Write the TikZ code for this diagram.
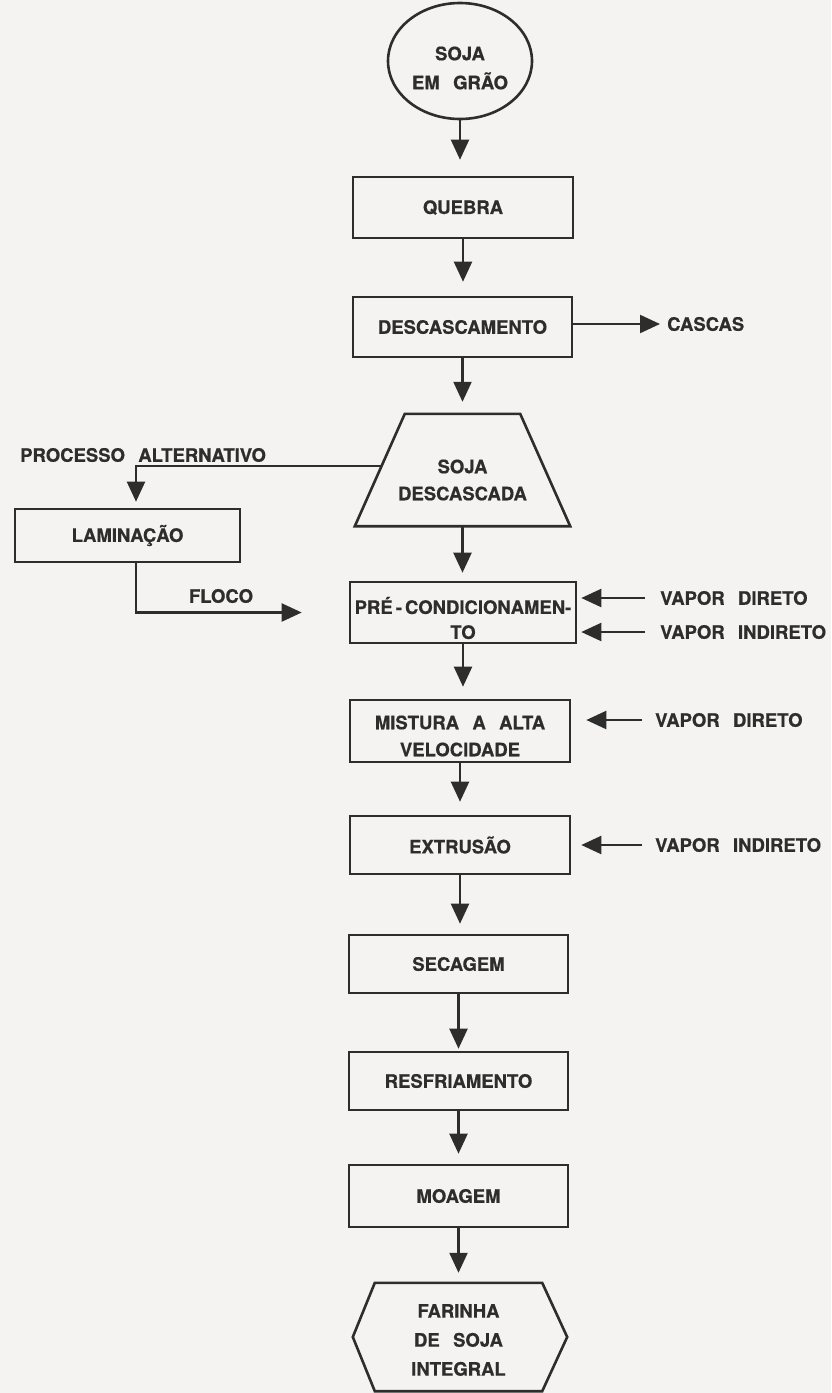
\documentclass[tikz,border=0pt]{standalone}
\usepackage{fontspec}
\newfontfamily\lettering{TeX Gyre Heros}[WordSpace=2.6,FakeBold=0.6]
\usetikzlibrary{arrows.meta,shapes.geometric,calc}
\definecolor{ink}{RGB}{45,45,45}
\definecolor{paper}{RGB}{245,243,241}
\begin{document}
\begin{tikzpicture}[x=1pt,y=-1pt,
  every node/.style={font=\lettering\bfseries\fontsize{18.5}{27}\selectfont, text=ink},
  box/.style={draw=ink, line width=2.6pt, inner sep=0pt, align=center},
  outline/.style={draw=ink, line width=2.6pt, line join=miter},
  flow/.style={draw=ink, line width=2.2pt, -{Triangle[length=20pt,width=18pt]}},
  tag/.style={anchor=west, inner sep=0pt}
]
% page
\fill[paper] (0,0) rectangle (831,1393);
\useasboundingbox (0,0) rectangle (831,1393);

% main column
\node[ellipse, box, minimum width=144pt, minimum height=116pt] (grao) at (460,61) {};
\node[align=center, inner sep=0pt, font=\lettering\bfseries\fontsize{18.5}{29}\selectfont] (graot) at (460,68) {SOJA\\EM GRÃO};
\node[box, minimum width=220pt, minimum height=61pt] (quebra) at (463,207.5) {QUEBRA};
\node[box, minimum width=219pt, minimum height=60pt] (desc) at (462.5,327) {DESCASCAMENTO};
\node[tag] (cascas) at (667,324) {CASCAS};

% dehulled soy: trapezoid
\node[inner sep=0pt, minimum width=215pt, minimum height=112pt] (sd) at (462.5,470) {};
\draw[outline] ([xshift=50pt]sd.north west) -- ([xshift=-50pt]sd.north east)
  -- (sd.south east) -- (sd.south west) -- cycle;
\node[align=center, inner sep=0pt] (sdt) at (462.5,480) {SOJA\\DESCASCADA};
\coordinate (sdl) at ($(sd.south west)!0.536!([xshift=50pt]sd.north west)$);

% alternative branch
\node[tag] (alt) at (20,455) {PROCESSO ALTERNATIVO};
\node[box, minimum width=225pt, minimum height=53pt] (lam) at (127.5,535.5) {LAMINAÇÃO};
\node[inner sep=0pt] (floco) at (221,596) {FLOCO};

\node[box, minimum width=226pt, minimum height=61pt] (pre) at (463,612.5) {};
\node[align=center, inner sep=0pt, font=\lettering\bfseries\fontsize{18.5}{25}\selectfont] (pret) at (463,618) {PRÉ\,-\,CONDICIONAMEN-\\TO};
\node[tag] (vd1) at (660,598) {VAPOR DIRETO};
\node[tag] (vi1) at (660,632) {VAPOR INDIRETO};

\node[box, minimum width=220pt, minimum height=62pt] (mist) at (460,731) {};
\node[align=center, inner sep=0pt] (mistt) at (460,736) {MISTURA A ALTA\\VELOCIDADE};
\node[tag] (vd2) at (655,720) {VAPOR DIRETO};

\node[box, minimum width=220pt, minimum height=58pt] (ext) at (460,845) {EXTRUSÃO};
\node[tag] (vi2) at (655,845) {VAPOR INDIRETO};

\node[box, minimum width=219pt, minimum height=58pt] (sec) at (458.5,964) {SECAGEM};
\node[box, minimum width=219pt, minimum height=58pt] (res) at (458.5,1081) {RESFRIAMENTO};
\node[box, minimum width=219pt, minimum height=62pt] (moa) at (458.5,1196) {MOAGEM};

% whole soy flour: hexagon
\node[inner sep=0pt, minimum width=167pt, minimum height=108pt] (far) at (458.5,1337) {};
\node[align=center, inner sep=0pt, font=\lettering\bfseries\fontsize{18.5}{29}\selectfont] (fart) at (458.5,1340) {FARINHA\\DE SOJA\\INTEGRAL};
\draw[outline] (far.north west) -- (far.north east) -- ([xshift=25pt]far.east)
  -- (far.south east) -- (far.south west) -- ([xshift=-22pt]far.west) -- cycle;

% connectors down the column
\draw[flow, shorten >=16pt] (grao.south) -- (grao.south |- quebra.north);
\draw[flow, shorten >=14pt] (quebra.south) -- (quebra.south |- desc.north);
\draw[flow, shorten >=12pt] (desc.south) -- (desc.south |- sd.north);
\draw[flow, shorten >=8pt] (sd.south) -- (sd.south |- pre.north);
\draw[flow, shorten >=12pt] (pre.south) -- (pre.south |- mist.north);
\draw[flow, shorten >=13pt] (mist.south) -- (mist.south |- ext.north);
\draw[flow, shorten >=10pt] (ext.south) -- (ext.south |- sec.north);
\draw[flow, shorten >=2pt] (sec.south) -- (sec.south |- res.north);
\draw[flow, shorten >=10pt] (res.south) -- (res.south |- moa.north);
\draw[flow, shorten >=10pt] (moa.south) -- (moa.south |- far.north);

% side connectors
\draw[flow] (desc.east |- cascas.west) -- ([xshift=-7pt]cascas.west);
\draw[flow, shorten >=6pt] (sdl) -| ([xshift=8.5pt]lam.north);
\draw[flow, shorten >=47pt] ([xshift=8.5pt]lam.south) |- (pre.west);
\draw[flow, shorten >=4pt] ([xshift=-15pt]vd1.west) -- (pre.east |- vd1.west);
\draw[flow, shorten >=4pt] ([xshift=-15pt]vi1.west) -- (pre.east |- vi1.west);
\draw[flow, shorten >=15pt] ([xshift=-13pt]vd2.west) -- (mist.east |- vd2.west);
\draw[flow, shorten >=10pt] ([xshift=-13pt]vi2.west) -- (ext.east |- vi2.west);
\end{tikzpicture}
\end{document}
